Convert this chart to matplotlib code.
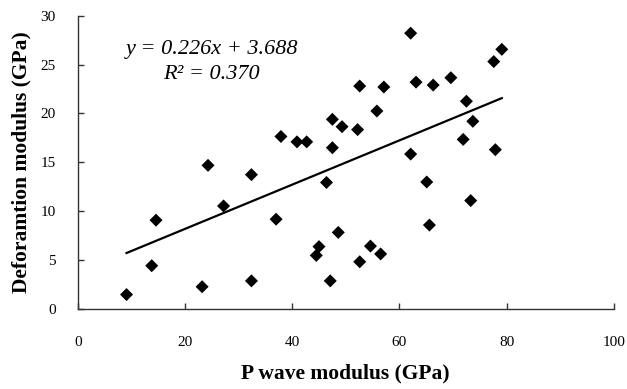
import matplotlib
matplotlib.use("Agg")
import matplotlib.pyplot as plt
import numpy as np

p_wave = [9.1, 13.8, 14.6, 23.2, 24.3, 27.2, 32.4, 32.4, 37.0, 37.9,
          40.9, 42.7, 45.0, 44.5, 47.1, 46.4, 47.5, 47.5, 49.3, 48.6,
          52.6, 57.1, 55.8, 52.2, 54.6, 52.6, 56.5, 62.1, 63.1, 66.3,
          69.6, 62.1, 65.1, 65.6, 72.5, 73.7, 71.9, 73.3, 77.6, 79.1, 77.9]
deform = [1.5, 4.45, 9.1, 2.3, 14.7, 10.55, 2.9, 13.75, 9.2, 17.65,
          17.1, 17.1, 6.4, 5.5, 2.9, 12.95, 16.5, 19.4, 18.65, 7.85,
          22.8, 22.7, 20.25, 18.35, 6.45, 4.85, 5.65, 28.2, 23.2, 22.9,
          23.65, 15.85, 13.0, 8.6, 21.25, 19.2, 17.35, 11.1, 25.3, 26.55, 16.3]
slope, intercept = 0.226, 3.688
r2 = 0.370

plt.rcParams['font.family'] = ['Liberation Serif', 'DejaVu Serif']

fig = plt.figure(figsize=(6.27, 3.89), dpi=100)
ax = fig.add_axes([0.124, 0.205, 0.855, 0.755])

ax.scatter(p_wave, deform, marker='D', s=44, color='black', edgecolors='none', zorder=3)
xl = np.array([min(p_wave), max(p_wave)])
ax.plot(xl, slope * xl + intercept, color='black', lw=1.6, zorder=2)

ax.set_xlim(0, 100)
ax.set_ylim(0, 30)
ax.set_xticks(range(0, 101, 20))
ax.set_yticks(range(0, 31, 5))
for s in ['top', 'right']:
    ax.spines[s].set_visible(False)
for s in ['left', 'bottom']:
    ax.spines[s].set_linewidth(1.0)
    ax.spines[s].set_color('#333333')
ax.tick_params(direction='in', length=4, width=1.0, labelsize=11, colors='#333333',
               labelcolor='black')
ax.tick_params(axis='x', pad=19)
ax.tick_params(axis='y', pad=16)

ax.set_xlabel('P wave modulus (GPa)', fontsize=15.5, fontweight='bold', labelpad=11)
ax.set_ylabel('Deforamtion modulus (GPa)', fontsize=15.5, fontweight='bold', labelpad=6)

ax.text(0.25, 0.885, f'y = {slope:.3f}x + {intercept:.3f}', transform=ax.transAxes,
        ha='center', va='center', fontsize=16, fontstyle='italic')
ax.text(0.25, 0.80, f'R² = {r2:.3f}', transform=ax.transAxes,
        ha='center', va='center', fontsize=16, fontstyle='italic')

fig.savefig('out.png', dpi=100)
